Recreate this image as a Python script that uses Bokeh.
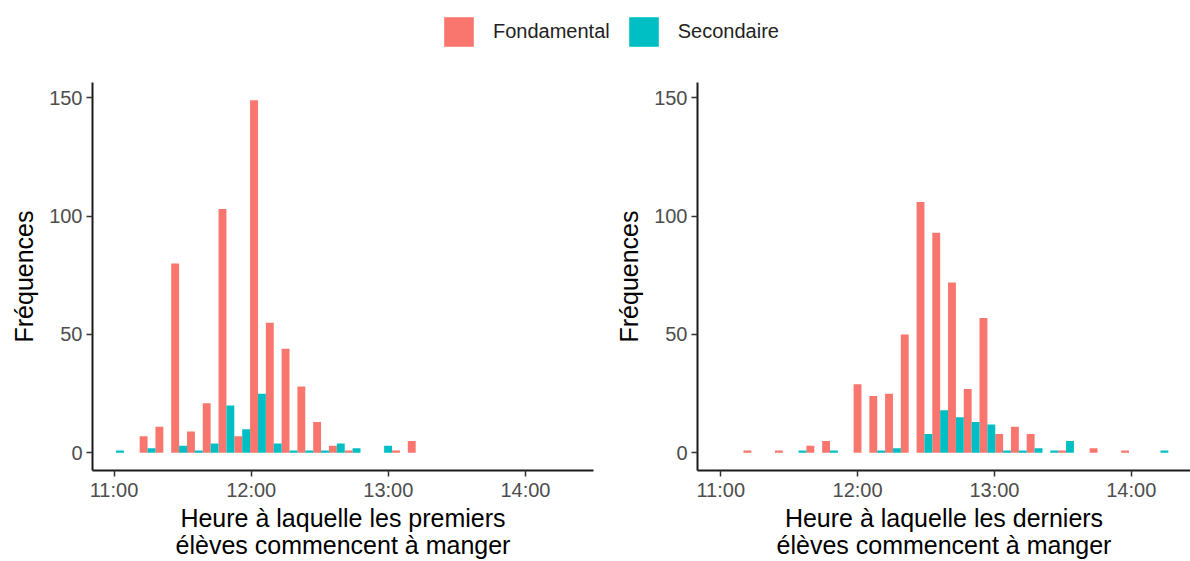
from bokeh.plotting import figure
from bokeh.layouts import column, row
from bokeh.models import Range1d, FixedTicker, Legend, LegendItem, ColumnDataSource
from bokeh.embed import file_html
from bokeh.resources import INLINE

# ---------------- data ----------------
groups = ["Fondamental", "Secondaire"]
colors = ["#F8766D", "#00BFC4"]

bin_width_h = 0.115          # bin width in hours (~6.9 min)
first_bin_start = 10.957     # left edge of first bin, panel "premiers"
last_bin_start = 11.166      # left edge of first bin, panel "derniers"

first_fond = [0, 0, 7, 11, 80, 9, 21, 103, 7, 149, 55, 44, 28, 13, 3, 1, 0, 0, 1, 5]
first_sec = [1, 0, 2, 0, 3, 1, 4, 20, 10, 25, 4, 1, 1, 1, 4, 2, 0, 3, 0, 0]

last_fond = [1, 0, 1, 0, 3, 5, 0, 29, 24, 25, 50, 106, 93, 72, 27, 57, 8, 11, 8, 0, 1, 0, 2, 0, 1, 0, 0]
last_sec = [0, 0, 0, 1, 0, 1, 0, 0, 1, 2, 0, 8, 18, 15, 13, 12, 1, 1, 2, 1, 5, 0, 0, 0, 0, 0, 1]

x_ticks = [11, 12, 13, 14]
x_tick_labels = ["11:00", "12:00", "13:00", "14:00"]
y_ticks = [0, 50, 100, 150]

y_label = "Fréquences"
x_label_first = "Heure à laquelle les premiers\nélèves commencent à manger"
x_label_last = "Heure à laquelle les derniers\nélèves commencent à manger"

FONT = "Liberation Sans"


def dodge_source(start, counts, g):
    half = bin_width_h / 2.0
    lefts = [start + k * bin_width_h + g * half for k in range(len(counts))]
    rights = [l + half for l in lefts]
    return ColumnDataSource(dict(left=lefts, right=rights, top=counts, bottom=[0] * len(counts)))


def make_panel(start, fond, sec, xlabel, width, xr, border_right):
    p = figure(width=width, height=496, output_backend="svg", toolbar_location=None,
               x_range=Range1d(*xr), y_range=Range1d(-7.45, 156.45),
               min_border_left=92, min_border_right=border_right,
               min_border_top=17, min_border_bottom=89)
    for g, counts in enumerate([fond, sec]):
        p.quad(left="left", right="right", top="top", bottom="bottom",
               source=dodge_source(start, counts, g),
               fill_color=colors[g], line_color=None)
    p.xgrid.visible = False
    p.ygrid.visible = False
    p.outline_line_color = None
    p.background_fill_color = "white"
    p.border_fill_color = "white"

    p.xaxis.ticker = FixedTicker(ticks=x_ticks)
    p.xaxis.major_label_overrides = {t: l for t, l in zip(x_ticks, x_tick_labels)}
    p.yaxis.ticker = FixedTicker(ticks=y_ticks)
    for ax in (p.xaxis, p.yaxis):
        ax.axis_line_color = "#1a1a1a"
        ax.axis_line_width = 2
        ax.major_tick_line_color = "#333333"
        ax.major_tick_line_width = 1.5
        ax.major_tick_out = 6
        ax.major_tick_in = 0
        ax.minor_tick_line_color = None
        ax.major_label_text_font = FONT
        ax.major_label_text_font_size = "20px"
        ax.major_label_text_color = "#4D4D4D"
        ax.axis_label_text_font = FONT
        ax.axis_label_text_font_size = "25px"
        ax.axis_label_text_font_style = "normal"
        ax.axis_label_text_color = "black"
        ax.axis_label_text_line_height = 0.98
    p.xaxis.axis_label = xlabel
    p.yaxis.axis_label = y_label
    p.xaxis.major_label_standoff = 2
    p.xaxis.axis_label_standoff = 0
    p.yaxis.major_label_standoff = 4
    p.yaxis.axis_label_standoff = 8
    return p


left = make_panel(first_bin_start, first_fond, first_sec, x_label_first, 605, (10.843, 14.496), 12)
right = make_panel(last_bin_start, last_fond, last_sec, x_label_last, 585, (10.83, 14.433), 0)

# ---------------- legend strip ----------------
leg = figure(width=1190, height=65, output_backend="svg", toolbar_location=None,
             x_range=Range1d(0, 1), y_range=Range1d(0, 1),
             x_axis_type=None, y_axis_type=None,
             min_border=0, min_border_left=0, min_border_right=0, min_border_top=0, min_border_bottom=0)
leg.xgrid.visible = False
leg.ygrid.visible = False
leg.outline_line_color = None
items = []
for name, col in zip(groups, colors):
    # dummy renderer placed outside the visible range; only used for the legend swatch
    r = leg.quad(left=[5], right=[6], top=[6], bottom=[5], fill_color=col, line_color=None)
    items.append(LegendItem(label=name, renderers=[r]))
legend = Legend(items=items, orientation="horizontal", location=(440, 15),
                glyph_width=37, glyph_height=37, label_standoff=16, spacing=15,
                padding=0, margin=0, border_line_color=None, background_fill_alpha=0,
                label_text_font=FONT, label_text_font_size="20px", label_text_color="#222222",
                label_height=37)
leg.add_layout(legend, "center")

layout = column(leg, row(left, right, spacing=0), spacing=0)

open("out.html", "w").write(file_html(layout, INLINE))
